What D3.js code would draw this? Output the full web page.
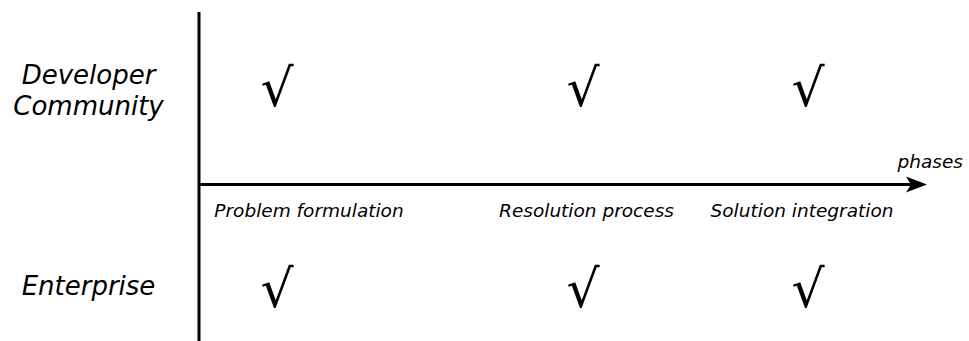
<!DOCTYPE html>
<html><head><meta charset="utf-8">
<script src="https://cdn.jsdelivr.net/npm/d3@7"></script>
<style>body{margin:0;background:#fff}svg{display:block}text{font-family:"DejaVu Sans";font-style:oblique;fill:#000}</style>
</head><body>
<script>
const phases = ["Problem formulation", "Resolution process", "Solution integration"];
const phaseLabelPos = [309, 586.5, 802];
const checkPos = [277, 583, 808];
const actors = ["Developer Community", "Enterprise"];
const actorLines = [["Developer", "Community"], ["Enterprise"]];
const marks = [
  {actor: "Developer Community", phase: "Problem formulation", v: 1},
  {actor: "Developer Community", phase: "Resolution process", v: 1},
  {actor: "Developer Community", phase: "Solution integration", v: 1},
  {actor: "Enterprise", phase: "Problem formulation", v: 1},
  {actor: "Enterprise", phase: "Resolution process", v: 1},
  {actor: "Enterprise", phase: "Solution integration", v: 1}
];
const axisTitle = "phases";

const W = 969, H = 341;
const svg = d3.select("body").append("svg").attr("width", W).attr("height", H);

const xLabel = d3.scaleOrdinal().domain(phases).range(phaseLabelPos);
const xCheck = d3.scaleOrdinal().domain(phases).range(checkPos);
const y = d3.scalePoint().domain(actors).range([86, 287]);
const axisY = 184.5, axisX = 199;

// vertical axis
svg.append("line").attr("x1", axisX).attr("x2", axisX).attr("y1", 12).attr("y2", H)
  .attr("stroke", "#000").attr("stroke-width", 3);
// horizontal arrow
svg.append("line").attr("x1", axisX).attr("x2", 912).attr("y1", axisY).attr("y2", axisY)
  .attr("stroke", "#000").attr("stroke-width", 3);
svg.append("path")
  .attr("d", `M927,${axisY} L906,${axisY-8} L911,${axisY} L906,${axisY+8} Z`)
  .attr("fill", "#000");
svg.append("text").attr("x", 963).attr("y", 168).attr("text-anchor", "end")
  .style("font-size", "18.5px").text(axisTitle);

// phase labels
svg.selectAll("text.phase").data(phases).join("text").attr("class", "phase")
  .attr("x", d => xLabel(d)).attr("y", 217).attr("text-anchor", "middle")
  .style("font-size", "18.5px").text(d => d);

// actor labels
actors.forEach((a, i) => {
  const lines = actorLines[i];
  const t = svg.append("text").attr("text-anchor", "middle").style("font-size", "26px");
  const lh = 31;
  const n = lines.length;
  const y0 = y(a) - (n - 1) * lh / 2 + 8 + (n - 1) * 5.5;
  lines.forEach((l, j) => t.append("tspan").attr("x", 88.5).attr("y", y0 + j * lh).text(l));
});

// check marks
svg.selectAll("text.check").data(marks.filter(d => d.v)).join("text").attr("class", "check")
  .attr("x", d => xCheck(d.phase)).attr("y", d => y(d.actor) + 20)
  .attr("text-anchor", "middle").style("font-size", "52px").style("font-style", "normal")
  .text("\u221A");
</script>
</body></html>
